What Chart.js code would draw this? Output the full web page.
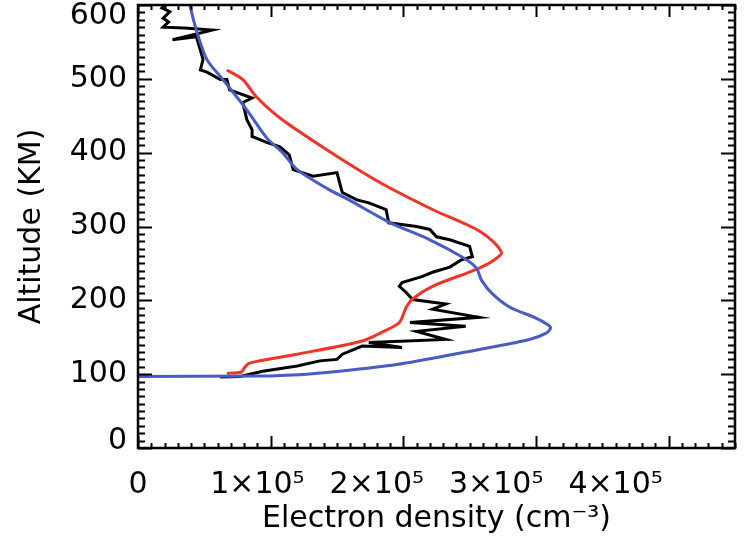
<!DOCTYPE html>
<html>
<head>
<meta charset="utf-8">
<script src="https://cdn.jsdelivr.net/npm/chart.js@4"></script>
<style>
  body { margin: 0; background: #fff; }
</style>
</head>
<body>
<canvas id="myChart" width="744" height="542"></canvas>
<script>
// tick labels
let xTickLabels = ['0', '1×10⁵', '2×10⁵', '3×10⁵', '4×10⁵'];
let yTickLabels = ['0', '100', '200', '300', '400', '500', '600'];

// model profile (blue), density in 1e5 cm^-3, altitude in km
let blueDensity = [0.00, 0.94, 1.27, 1.44, 1.95, 2.44, 2.95, 3.08, 3.11, 3.08, 3.00, 2.80, 2.67, 2.59, 2.55, 2.44, 2.20, 1.89, 1.59, 1.44, 1.20, 1.09, 0.97, 0.82, 0.64, 0.52, 0.44, 0.39, 0.37];
let blueAltitude = [97, 97.5, 100, 102.5, 113, 129, 147, 156, 163, 168, 176, 191, 209, 227, 244, 259, 282, 306, 336, 350, 377, 400, 420, 458, 499, 526, 566, 600, 615];

// second model profile (red)
let redDensity = [0.67, 0.78, 0.80, 0.84, 1.20, 1.69, 1.84, 1.97, 2.02, 2.07, 2.22, 2.55, 2.67, 2.74, 2.59, 2.22, 1.82, 1.44, 1.07, 0.89, 0.79, 0.67];
let redAltitude = [101, 103, 108, 115, 127, 145, 157, 170, 190, 202, 219, 242, 253, 265, 292, 323, 360, 402, 447, 476, 499, 512];

// measured profile (black)
let blackDensity = [0.62, 0.77, 0.94, 1.20, 1.37, 1.50, 1.54, 1.69, 1.99, 1.74, 2.32, 2.10, 2.47, 2.05, 2.57, 2.22, 2.32, 2.07, 2.02, 1.97, 1.99, 2.14, 2.22, 2.35, 2.44, 2.52, 2.50, 2.35, 2.25, 2.20, 2.10, 1.89, 1.87, 1.74, 1.65, 1.54, 1.52, 1.50, 1.32, 1.17, 1.14, 1.07, 0.97, 0.86, 0.86, 0.82, 0.79, 0.86, 0.69, 0.67, 0.62, 0.52, 0.47, 0.49, 0.47, 0.44, 0.26, 0.56, 0.35, 0.19, 0.23, 0.19, 0.24, 0.18, 0.20];
let blackAltitude = [96, 97, 104, 111, 118, 120, 127, 138, 136, 143, 147, 158, 165, 170, 177, 188, 195, 201, 211, 219, 224, 232, 238, 245, 255, 259, 273, 282, 286, 296, 300, 305, 323, 332, 336, 346, 359, 373, 368, 377, 397, 408, 414, 422, 431, 445, 468, 474, 485, 499, 499, 509, 512, 526, 539, 557, 553, 566, 569, 570, 577, 582, 591, 596, 600];

function toPoints(dens, alt) {
    return dens.map((d, i) => ({x: d * 1e5, y: alt[i]}));
}

// ticks drawn inside the frame on all four sides
let frameTicks = {
    id: 'frameTicks',
    afterDatasetsDraw(chart) {
        let c = chart.ctx;
        let a = chart.chartArea;
        let sx = chart.scales.x;
        let sy = chart.scales.y;
        c.save();
        c.strokeStyle = '#000';
        c.lineWidth = 2;
        c.beginPath();
        for (let i = 0; i <= 45; i++) {
            let px = Math.round(sx.getPixelForValue(i * 10000)) + 0.5;
            let len = i % 10 === 0 ? 12 : 5;
            c.moveTo(px, a.bottom);
            c.lineTo(px, a.bottom - len);
            c.moveTo(px, a.top);
            c.lineTo(px, a.top + len);
        }
        for (let i = 0; i <= 60; i++) {
            let py = Math.round(sy.getPixelForValue(i * 10)) + 0.5;
            let len = i % 10 === 0 ? 14 : 7;
            c.moveTo(a.left, py);
            c.lineTo(a.left + len, py);
            c.moveTo(a.right, py);
            c.lineTo(a.right - len, py);
        }
        c.stroke();
        c.lineWidth = 2.5;
        c.strokeRect(a.left, a.top, a.right - a.left, a.bottom - a.top);

        // end labels of the altitude axis are nudged inside, as in the original
        c.fillStyle = '#000';
        c.font = "30px 'DejaVu Sans'";
        c.textAlign = 'right';
        c.textBaseline = 'middle';
        let last = yTickLabels.length - 1;
        c.fillText(yTickLabels[0], a.left - 11, sy.getPixelForValue(0) - 7);
        c.fillText(yTickLabels[last], a.left - 11, sy.getPixelForValue(600) + 11);
        c.restore();
    }
};

let ctx = document.getElementById('myChart').getContext('2d');
let chart1 = new Chart(ctx, {
    type: 'scatter',
    data: {
        datasets: [{
            label: 'model',
            data: toPoints(blueDensity, blueAltitude),
            borderColor: 'rgb(72, 92, 196)',
            borderWidth: 3,
            tension: 0.3
        }, {
            label: 'model 2',
            data: toPoints(redDensity, redAltitude),
            borderColor: 'rgb(242, 52, 38)',
            borderWidth: 3,
            tension: 0.3
        }, {
            label: 'observed',
            data: toPoints(blackDensity, blackAltitude),
            borderColor: '#000',
            borderWidth: 3,
            tension: 0
        }]
    },
    options: {
        responsive: false,
        animation: false,
        devicePixelRatio: 1,
        showLine: true,
        elements: {
            point: { radius: 0 }
        },
        layout: {
            padding: { left: 0, right: 9, top: 5, bottom: 0 }
        },
        plugins: {
            legend: { display: false },
            tooltip: { enabled: false }
        },
        scales: {
            x: {
                type: 'linear',
                min: 0,
                max: 450000,
                grid: { display: false, drawTicks: false },
                border: { display: false },
                ticks: {
                    stepSize: 100000,
                    padding: 19,
                    maxRotation: 0,
                    color: '#000',
                    font: { family: "'DejaVu Sans'", size: 30 },
                    callback: (v, i) => xTickLabels[i]
                },
                title: {
                    display: true,
                    text: 'Electron density (cm⁻³)',
                    color: '#000',
                    font: { family: "'DejaVu Sans'", size: 30 },
                    padding: { top: 0, bottom: 5 }
                },
                afterFit: s => {
                    s.height = 94;
                    s.paddingLeft = 0;
                    s.paddingRight = 0;
                }
            },
            y: {
                type: 'linear',
                min: 0,
                max: 600,
                grid: { display: false, drawTicks: false },
                border: { display: false },
                ticks: {
                    stepSize: 100,
                    padding: 11,
                    color: '#000',
                    font: { family: "'DejaVu Sans'", size: 30 },
                    // first and last are drawn by the plugin
                    callback: (v, i) => (i === 0 || i === yTickLabels.length - 1) ? '' : yTickLabels[i]
                },
                title: {
                    display: true,
                    text: 'Altitude (KM)',
                    color: '#000',
                    font: { family: "'DejaVu Sans'", size: 30 },
                    padding: { top: 14, bottom: 0 }
                },
                afterFit: s => {
                    s.width = 138;
                    s.paddingTop = 0;
                    s.paddingBottom = 0;
                }
            }
        }
    },
    plugins: [frameTicks]
});
</script>
</body>
</html>
